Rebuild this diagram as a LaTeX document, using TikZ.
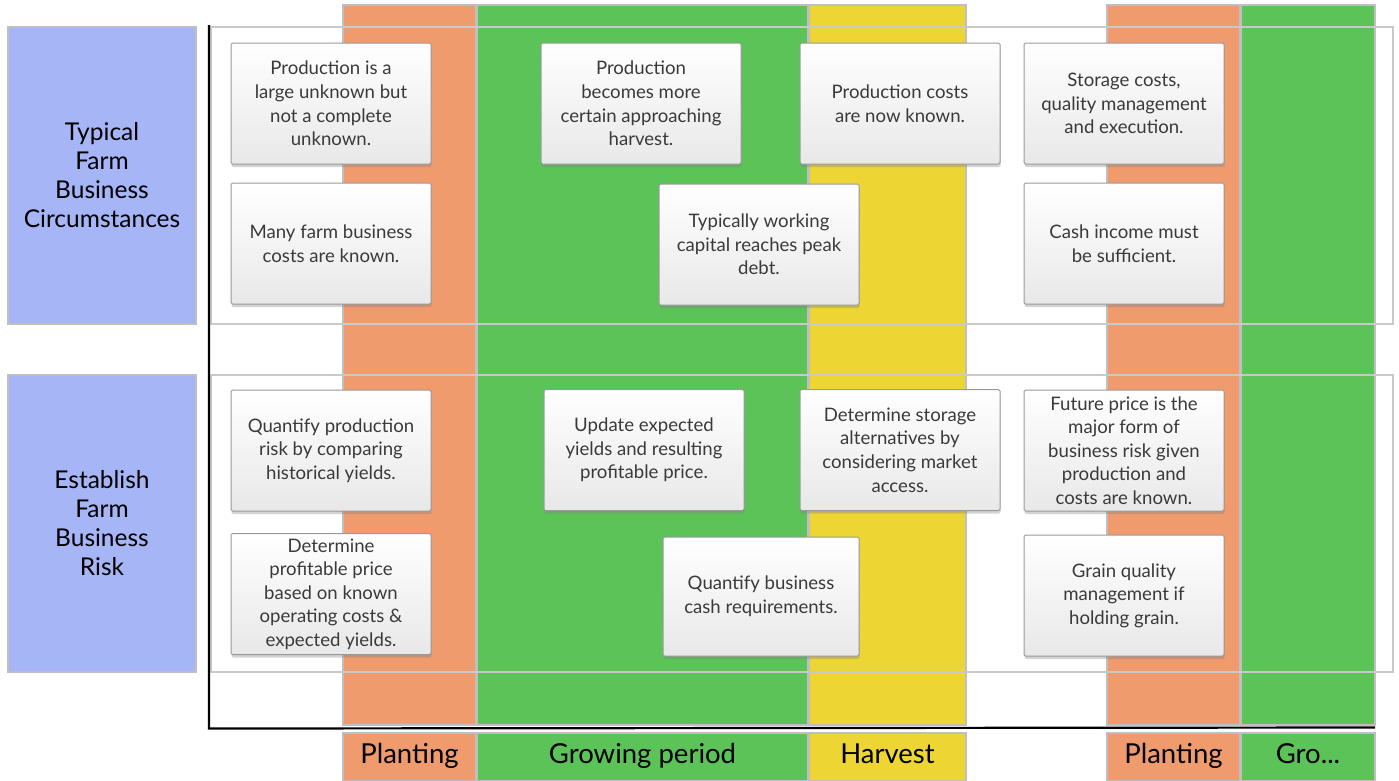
\documentclass[tikz,border=0pt]{standalone}
\usepackage{fontspec}
\setmainfont{Lato}
\usetikzlibrary{shadows}

\definecolor{plantorange}{HTML}{F09B6E}
\definecolor{growgreen}{HTML}{5BC358}
\definecolor{harvestyellow}{HTML}{EDD634}
\definecolor{headblue}{HTML}{A6B5F6}
\definecolor{edgegray}{HTML}{BFBFBF}
\definecolor{cardtext}{HTML}{3A3A3A}

\begin{document}
\begin{tikzpicture}[x=1pt, y=-1pt,
  band/.style={draw=edgegray, line width=2.5pt},
  rowframe/.style={draw=edgegray!85, line width=2.5pt},
  card/.style={draw=gray!80, line width=1pt, rounded corners=1.5pt, shading=axis, top color=white,
    bottom color=gray!18, minimum width=200pt, minimum height=121pt, inner sep=2pt, align=center,
    text=cardtext, font=\fontsize{18.6}{23.6}\selectfont,
    drop shadow={shadow xshift=0.5pt, shadow yshift=-3pt, opacity=0.35}},
  headbox/.style={draw=edgegray, line width=2.5pt, fill=headblue, minimum width=188pt,
    minimum height=297pt, align=center, font=\fontsize{24.5}{29}\selectfont},
  phase/.style={draw=edgegray, line width=2.5pt, minimum height=48pt, inner sep=0pt,
    text height=19pt, text depth=6pt, font=\fontsize{27.5}{32}\selectfont}]
\useasboundingbox (0,0) rectangle (1399,780);

% season bands
\draw[band, fill=plantorange] (343,5) rectangle (476,725);
\draw[band, fill=growgreen] (477,5) rectangle (808,725);
\draw[band, fill=harvestyellow] (809,5) rectangle (966,725);
\draw[band, fill=plantorange] (1107,5) rectangle (1240,725);
\draw[band, fill=growgreen] (1241,5) rectangle (1375,725);

% row frames
\draw[rowframe] (211,27) rectangle (1393,324);
\draw[rowframe] (211,375) rectangle (1393,672);

% row headers
\node[headbox] (circum) at (102,175.5) {Typical\\Farm\\Business\\Circumstances};
\node[headbox] (risk) at (102,523.5) {Establish\\Farm\\Business\\Risk};

% circumstances
\node[card] (unknown) at (331,103.5) {Production is a\\large unknown but\\not a complete\\unknown.};
\node[card] (costs) at (331,243.5) {Many farm business\\costs are known.};
\node[card] (certain) at (641,103.5) {Production\\becomes more\\certain approaching\\harvest.};
\node[card] (debt) at (759,244.5) {Typically working\\capital reaches peak\\debt.};
\node[card] (known) at (900,103.5) {Production costs\\are now known.};
\node[card] (storage) at (1124,103.5) {Storage costs,\\quality management\\and execution.};
\node[card] (income) at (1124,243.5) {Cash income must\\be sufficient.};

% risk
\node[card] (quantify) at (331,450.5) {Quantify production\\risk by comparing\\historical yields.};
\node[card] (price) at (331,594) {Determine\\profitable price\\based on known\\operating costs \&\\expected yields.};
\node[card] (update) at (644,450) {Update expected\\yields and resulting\\profitable price.};
\node[card] (alternatives) at (900,450) {Determine storage\\alternatives by\\considering market\\access.};
\node[card, minimum width=196pt, minimum height=119pt] (cash) at (761,596.5) {Quantify business\\cash requirements.};
\node[card] (future) at (1124,450.5) {Future price is the\\major form of\\business risk given\\production and\\costs are known.};
\node[card] (quality) at (1124,595.5) {Grain quality\\management if\\holding grain.};

% axes
\draw[line width=2.2pt] (209,25) -- (209,728.5) -- (1375,727.5);

% season labels
\node[phase, fill=plantorange, minimum width=133pt] (plant) at (409.5,757) {Planting};
\node[phase, fill=growgreen, minimum width=331pt] (grow) at (642.5,757) {Growing period};
\node[phase, fill=harvestyellow, minimum width=157pt] (harvest) at (887.5,757) {Harvest};
\node[phase, fill=plantorange, minimum width=133pt] (replant) at (1173.5,757) {Planting};
\node[phase, fill=growgreen, minimum width=134pt] (regrow) at (1308,757) {Gro...};
\end{tikzpicture}
\end{document}
